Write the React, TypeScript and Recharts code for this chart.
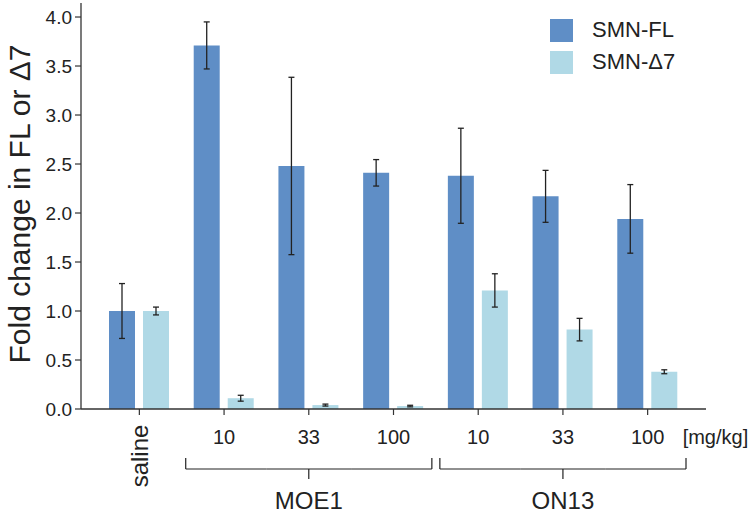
import React from "react";
import {
  BarChart,
  Bar,
  ErrorBar,
  XAxis,
  YAxis,
  Legend,
} from "recharts";

const doseKeys = ["saline", "moe-10", "moe-33", "moe-100", "on-10", "on-33", "on-100"];
const doseLabels = ["saline", "10", "33", "100", "10", "33", "100"];
const doseGroups = ["", "MOE1", "MOE1", "MOE1", "ON13", "ON13", "ON13"];

const flValues = [1.0, 3.71, 2.48, 2.41, 2.38, 2.17, 1.94];
const flErrors = [0.28, 0.24, 0.905, 0.135, 0.485, 0.265, 0.35];
const d7Values = [1.0, 0.11, 0.04, 0.03, 1.21, 0.81, 0.38];
const d7Errors = [0.04, 0.03, 0.01, 0.008, 0.17, 0.115, 0.02];

const yTicks = [0, 0.5, 1.0, 1.5, 2.0, 2.5, 3.0, 3.5, 4.0];

const FL_COLOR = "#5f8ec6";
const D7_COLOR = "#b0d9e6";
const INK = "#222";
const FONT = "'Liberation Sans', Arial, sans-serif";

const data = doseKeys.map((key, i) => ({
  key,
  fl: flValues[i],
  flErr: flErrors[i],
  d7: d7Values[i],
  d7Err: d7Errors[i],
}));

// x tick: dose number, or rotated "saline", plus group brackets underneath
const DoseTick = (props: any) => {
  const { x, y, index, payload } = props;
  const label = doseLabels[index];
  const group = doseGroups[index];
  const step = payload?.offset ?? 42;
  const half = step - 4;

  if (!group) {
    return (
      <text
        x={x}
        y={y + 41}
        transform={`rotate(-90, ${x}, ${y + 41})`}
        textAnchor="middle"
        dominantBaseline="central"
        fontSize={24}
        fontFamily={FONT}
        fill={INK}
      >
        {label}
      </text>
    );
  }

  const first = doseGroups[index - 1] !== group;
  const last = doseGroups[index + 1] !== group;
  const middle = !first && !last;
  const by = y + 54;
  const left = first ? x - half : x - step;
  const right = last ? x + half : x + step;

  return (
    <g>
      <text
        x={x}
        y={y + 22}
        textAnchor="middle"
        dominantBaseline="central"
        fontSize={20}
        fontFamily={FONT}
        fill={INK}
      >
        {label}
      </text>
      <line x1={left} x2={right} y1={by} y2={by} stroke={INK} strokeWidth={1.2} />
      {first && <line x1={left} x2={left} y1={by - 11} y2={by} stroke={INK} strokeWidth={1.2} />}
      {last && <line x1={right} x2={right} y1={by - 11} y2={by} stroke={INK} strokeWidth={1.2} />}
      {middle && (
        <>
          <line x1={x} x2={x} y1={by} y2={by + 10} stroke={INK} strokeWidth={1.2} />
          <text
            x={x}
            y={y + 85}
            textAnchor="middle"
            dominantBaseline="central"
            fontSize={24}
            fontFamily={FONT}
            fill={INK}
          >
            {group}
          </text>
        </>
      )}
      {index === doseKeys.length - 1 && (
        <text
          x={x + 35}
          y={y + 22}
          textAnchor="start"
          dominantBaseline="central"
          fontSize={20}
          fontFamily={FONT}
          fill={INK}
        >
          [mg/kg]
        </text>
      )}
    </g>
  );
};

const LegendBox = (props: any) => {
  const items = props.payload || [];
  return (
    <div style={{ fontFamily: FONT, fontSize: 22, color: INK }}>
      {items.map((item: any) => (
        <div key={item.value} style={{ display: "flex", alignItems: "center", height: 32 }}>
          <span
            style={{
              width: 23,
              height: 23,
              background: item.color,
              display: "inline-block",
              marginRight: 19,
            }}
          />
          <span>{item.value}</span>
        </div>
      ))}
    </div>
  );
};

const YLabel = (props: any) => {
  const { viewBox } = props;
  const cx = viewBox.x + 19;
  const cy = viewBox.y + viewBox.height / 2 - 2;
  return (
    <text
      x={cx}
      y={cy}
      transform={`rotate(-90, ${cx}, ${cy})`}
      textAnchor="middle"
      dominantBaseline="central"
      fontSize={30}
      fontFamily={FONT}
      fill={INK}
    >
      Fold change in FL or Δ7
    </text>
  );
};

export default function App() {
  return (
    <div style={{ position: "absolute", left: 0, top: 0, background: "#fff" }}>
      <BarChart
        width={756}
        height={512}
        data={data}
        margin={{ top: 3, right: 50, bottom: 63, left: 0 }}
        barGap={8}
        barSize={26}
      >
        <XAxis
          dataKey="key"
          height={40}
          padding={{ left: 16, right: 16 }}
          tick={<DoseTick />}
          tickSize={6}
          tickMargin={0}
          interval={0}
          axisLine={{ stroke: "#333", strokeWidth: 1.3 }}
          tickLine={{ stroke: "#333", strokeWidth: 1.2 }}
        />
        <XAxis
          xAxisId="frame"
          dataKey="key"
          orientation="top"
          height={0}
          tick={false}
          tickLine={false}
          axisLine={{ stroke: "#333", strokeWidth: 1.3 }}
        />
        <YAxis
          width={81}
          domain={[0, 4.143]}
          ticks={yTicks}
          allowDataOverflow
          tickFormatter={(v: number) => v.toFixed(1)}
          tick={{ fontSize: 19, fill: INK, fontFamily: FONT }}
          tickSize={6}
          tickMargin={3}
          axisLine={{ stroke: "#333", strokeWidth: 1.3 }}
          tickLine={{ stroke: "#333", strokeWidth: 1.2 }}
          label={<YLabel />}
        />
        <YAxis
          yAxisId="frame"
          orientation="right"
          width={0}
          domain={[0, 4.143]}
          tick={false}
          tickLine={false}
          axisLine={{ stroke: "#333", strokeWidth: 1.3 }}
        />
        <Legend
          layout="horizontal"
          verticalAlign="middle"
          align="center"
          wrapperStyle={{ top: 14, left: 550, width: 170 }}
          content={<LegendBox />}
        />
        <Bar dataKey="fl" name="SMN-FL" fill={FL_COLOR} isAnimationActive={false}>
          <ErrorBar dataKey="flErr" width={3} stroke={INK} strokeWidth={1.3} direction="y" />
        </Bar>
        <Bar dataKey="d7" name="SMN-Δ7" fill={D7_COLOR} isAnimationActive={false}>
          <ErrorBar dataKey="d7Err" width={3} stroke={INK} strokeWidth={1.3} direction="y" />
        </Bar>
      </BarChart>
    </div>
  );
}
